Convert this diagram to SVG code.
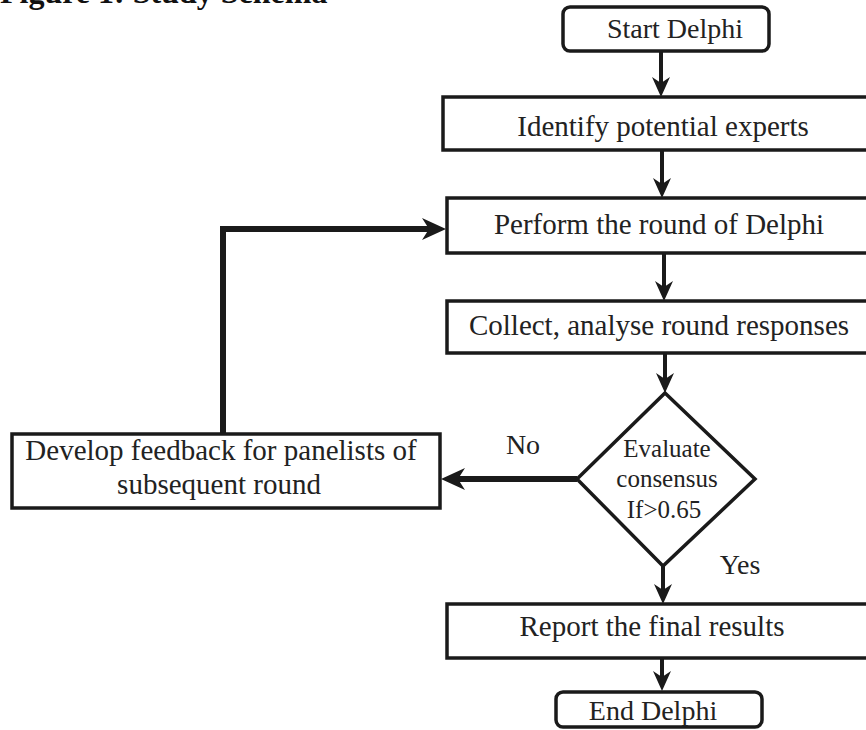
<svg xmlns="http://www.w3.org/2000/svg" width="866" height="730" viewBox="0 0 866 730">
<style>
.box{fill:#fff;stroke:#1a1a1a;stroke-width:3.5}
.t{font-family:"Liberation Serif","Times New Roman",serif;fill:#222;text-anchor:middle}
.l29{font-size:29px}
.l28{font-size:28px}
.l25{font-size:25px}
.title{font-family:"Liberation Serif","Times New Roman",serif;font-weight:bold;font-size:32px;fill:#111}
.c{fill:none;stroke:#1a1a1a;stroke-width:4}
.ck{fill:none;stroke:#1a1a1a;stroke-width:6}
</style>
<defs>
<marker id="ah" markerUnits="userSpaceOnUse" viewBox="-16 -10 24 20" markerWidth="24" markerHeight="20" refX="0" refY="0" orient="auto">
<path d="M6,0 L-14,-9 L-8,0 L-14,9 Z" fill="#1a1a1a"/>
</marker>
<marker id="ahk" markerUnits="userSpaceOnUse" viewBox="-18 -12 28 24" markerWidth="28" markerHeight="24" refX="0" refY="0" orient="auto">
<path d="M8,0 L-16,-11 L-9,0 L-16,11 Z" fill="#1a1a1a"/>
</marker>
</defs>
<text class="title" x="0" y="3">Figure 1: Study Schema</text>
<g id="connectors">
<line class="c" x1="661" y1="51" x2="661" y2="91" marker-end="url(#ah)"/>
<line class="c" x1="662" y1="150" x2="662" y2="192" marker-end="url(#ah)"/>
<line class="c" x1="664" y1="253" x2="664" y2="295" marker-end="url(#ah)"/>
<line class="c" x1="665" y1="353" x2="665" y2="387" marker-end="url(#ah)"/>
<line class="c" x1="663" y1="566" x2="663" y2="598" marker-end="url(#ah)"/>
<line class="c" x1="662" y1="658" x2="662" y2="685" marker-end="url(#ah)"/>
<line class="ck" x1="577" y1="479" x2="449" y2="479" marker-end="url(#ahk)"/>
<path class="ck" d="M223,434 V229 H438" marker-end="url(#ahk)"/>
</g>
<g id="start">
<rect class="box" x="563" y="7" width="206" height="44" rx="7"/>
<text class="t l28" x="675" y="38">Start Delphi</text>
</g>
<g id="identify">
<rect class="box" x="443" y="97" width="450" height="53"/>
<text class="t l29" x="663" y="136">Identify potential experts</text>
</g>
<g id="perform">
<rect class="box" x="447" y="198" width="450" height="55"/>
<text class="t l29" x="659" y="234">Perform the round of Delphi</text>
</g>
<g id="collect">
<rect class="box" x="447" y="301" width="450" height="52"/>
<text class="t l29" x="659" y="335">Collect, analyse round responses</text>
</g>
<g id="evaluate">
<path class="box" d="M665,393 L755,479 L663,566 L577,479 Z"/>
<text class="t l25" x="667" y="457">Evaluate</text>
<text class="t l25" x="667" y="487">consensus</text>
<text class="t l25" x="664" y="518">If&gt;0.65</text>
</g>
<g id="feedback">
<rect class="box" x="12" y="434" width="428" height="74"/>
<text class="t l29" x="221" y="460">Develop feedback for panelists of</text>
<text class="t l29" x="219" y="494">subsequent round</text>
</g>
<g id="labels">
<text class="t l28" x="523" y="454">No</text>
<text class="t l28" x="740" y="574">Yes</text>
</g>
<g id="report">
<rect class="box" x="447" y="604" width="450" height="54"/>
<text class="t l29" x="652" y="636">Report the final results</text>
</g>
<g id="end">
<rect class="box" x="556" y="692" width="206" height="35" rx="7"/>
<text class="t l28" x="653" y="720">End Delphi</text>
</g>
</svg>
